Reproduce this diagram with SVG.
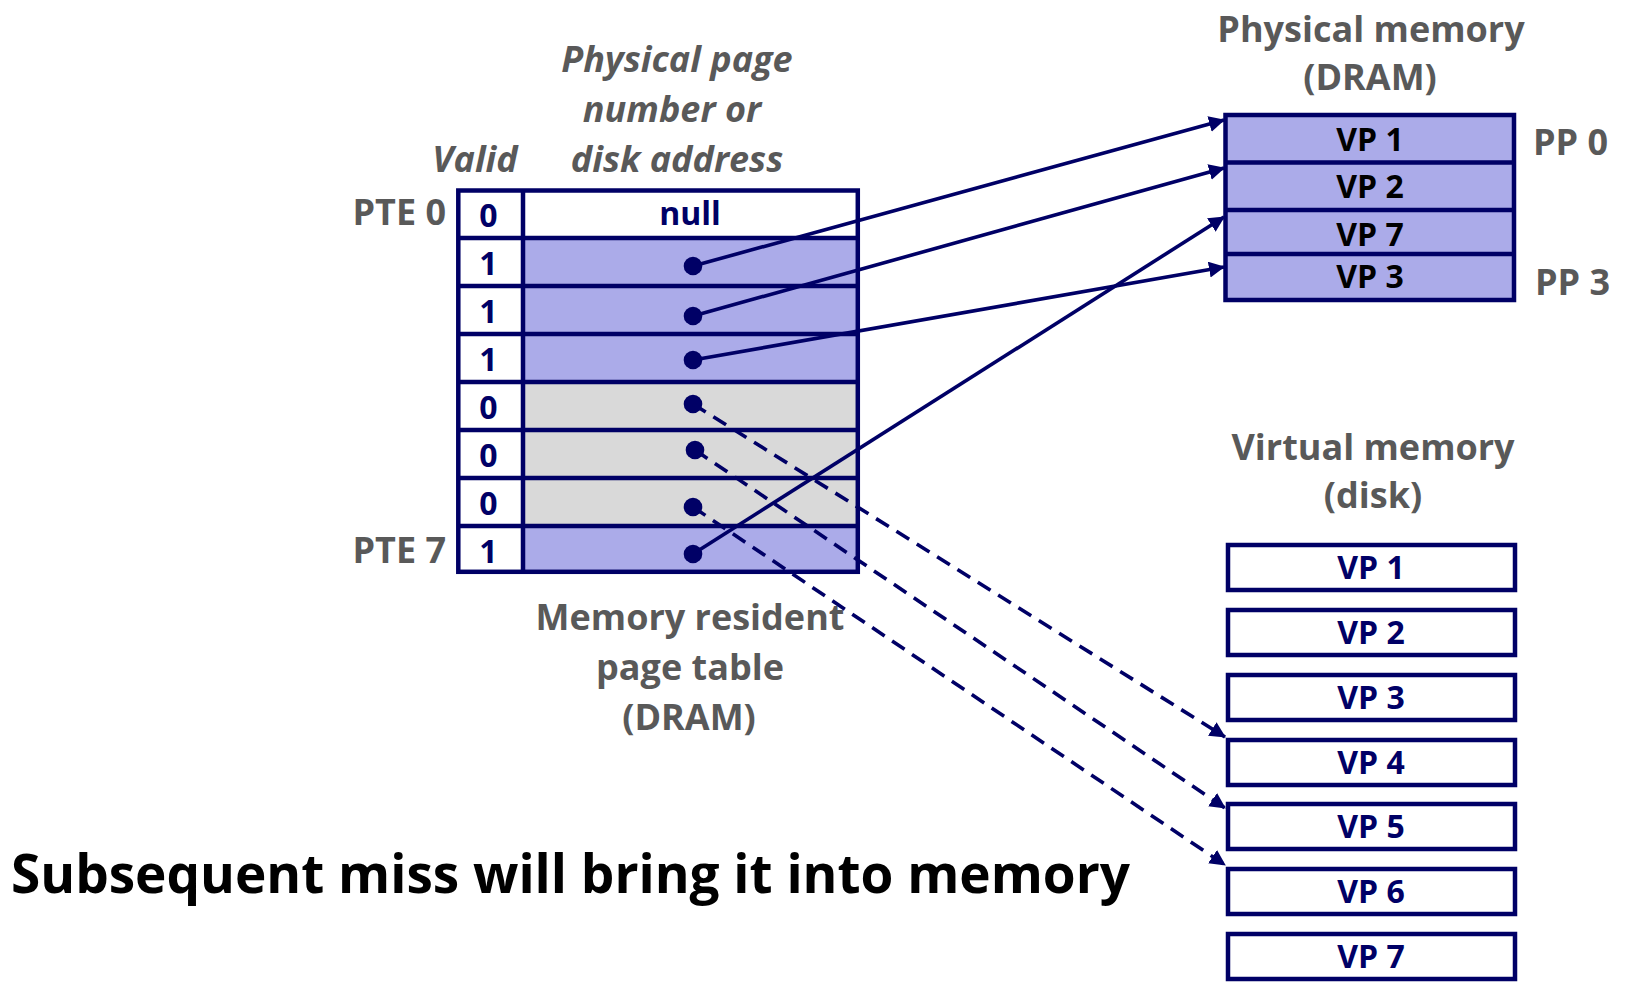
<svg xmlns="http://www.w3.org/2000/svg" width="1644" height="1000" viewBox="0 0 1644 1000">
<style>
.lbl{font-family:"Open Sans","Liberation Sans",sans-serif;font-weight:700;font-size:36px;fill:#595959}
.ital{font-style:italic}
.mid{text-anchor:middle}
.cell{font-family:"Open Sans","Liberation Sans",sans-serif;font-weight:700;font-size:32px;fill:#000066;text-anchor:middle}
.pm{font-family:"Open Sans","Liberation Sans",sans-serif;font-weight:700;font-size:32px;fill:#000000;text-anchor:middle}
.grid{fill:none;stroke:#000066;stroke-width:4.5}
.box{fill:#ffffff;stroke:#000066;stroke-width:4.5}
.lav{fill:#ABABE9}
.gry{fill:#D9D9D9}
.wht{fill:#ffffff}
.conn{fill:none;stroke:#000066;stroke-width:3.6}
.dash{stroke-dasharray:15 9}
.dot{fill:#000066}
.big{font-family:"Open Sans","Liberation Sans",sans-serif;font-weight:700;font-size:53px;fill:#000000}
</style>
<defs>
<marker id="ah" markerUnits="userSpaceOnUse" markerWidth="18" markerHeight="18" refX="15" refY="8" orient="auto">
<path d="M0,0 L16,8 L0,16 Z" fill="#000066"/>
</marker>
</defs>

<g id="page-table">
<rect class="wht" x="458.3" y="190.5" width="399.5" height="381.3"/>
<rect class="lav" x="523" y="238" width="334.8" height="144"/>
<rect class="gry" x="523" y="382" width="334.8" height="144"/>
<rect class="lav" x="523" y="526" width="334.8" height="45.8"/>
<rect class="grid" x="458.3" y="190.5" width="399.5" height="381.3"/>
<path class="grid" d="M523,190.5V571.8 M458.3,238H857.8 M458.3,286H857.8 M458.3,334H857.8 M458.3,382H857.8 M458.3,430H857.8 M458.3,478H857.8 M458.3,526H857.8"/>
<text class="cell" x="488.5" y="226.7">0</text>
<text class="cell" x="488.5" y="275">1</text>
<text class="cell" x="488.5" y="322.5">1</text>
<text class="cell" x="488.5" y="370.5">1</text>
<text class="cell" x="488.5" y="418.5">0</text>
<text class="cell" x="488.5" y="466.5">0</text>
<text class="cell" x="488.5" y="514.5">0</text>
<text class="cell" x="488.5" y="562.5">1</text>
<text class="cell" x="690" y="225">null</text>
<circle class="dot" cx="693" cy="266" r="9.3"/>
<circle class="dot" cx="693" cy="316" r="9.3"/>
<circle class="dot" cx="693" cy="360" r="9.3"/>
<circle class="dot" cx="693" cy="404" r="9.3"/>
<circle class="dot" cx="695" cy="450" r="9.3"/>
<circle class="dot" cx="693" cy="507" r="9.3"/>
<circle class="dot" cx="693" cy="554" r="9.3"/>
</g>

<g id="table-labels">
<text class="lbl ital mid" x="677" y="72">Physical page</text>
<text class="lbl ital mid" x="672" y="122">number or</text>
<text class="lbl ital mid" x="677" y="172">disk address</text>
<text class="lbl ital mid" x="475" y="172">Valid</text>
<text class="lbl" x="446" y="225" text-anchor="end">PTE 0</text>
<text class="lbl" x="446" y="563" text-anchor="end">PTE 7</text>
<text class="lbl mid" x="690" y="630">Memory resident</text>
<text class="lbl mid" x="690" y="680">page table</text>
<text class="lbl mid" x="689" y="730">(DRAM)</text>
</g>

<g id="physical-memory">
<text class="lbl mid" x="1371" y="42">Physical memory</text>
<text class="lbl mid" x="1370" y="90">(DRAM)</text>
<rect class="lav" x="1225.5" y="115" width="288.5" height="185"/>
<rect class="grid" x="1225.5" y="115" width="288.5" height="185"/>
<path class="grid" d="M1225.5,162.5H1514 M1225.5,210H1514 M1225.5,254H1514"/>
<text class="pm" x="1370" y="151">VP 1</text>
<text class="pm" x="1370" y="198">VP 2</text>
<text class="pm" x="1370" y="246">VP 7</text>
<text class="pm" x="1370" y="288">VP 3</text>
<text class="lbl" x="1533" y="155">PP 0</text>
<text class="lbl" x="1535" y="295">PP 3</text>
</g>

<g id="virtual-memory">
<text class="lbl mid" x="1373" y="460">Virtual memory</text>
<text class="lbl mid" x="1373" y="508">(disk)</text>
<g id="vp1"><rect class="box" x="1228" y="545" width="287" height="45"/><text class="cell" x="1371" y="578.5">VP 1</text></g>
<g id="vp2"><rect class="box" x="1228" y="610" width="287" height="45"/><text class="cell" x="1371" y="643.5">VP 2</text></g>
<g id="vp3"><rect class="box" x="1228" y="675" width="287" height="45"/><text class="cell" x="1371" y="708.5">VP 3</text></g>
<g id="vp4"><rect class="box" x="1228" y="740" width="287" height="45"/><text class="cell" x="1371" y="773.5">VP 4</text></g>
<g id="vp5"><rect class="box" x="1228" y="804" width="287" height="45"/><text class="cell" x="1371" y="837.5">VP 5</text></g>
<g id="vp6"><rect class="box" x="1228" y="869" width="287" height="45"/><text class="cell" x="1371" y="902.5">VP 6</text></g>
<g id="vp7"><rect class="box" x="1228" y="934" width="287" height="45"/><text class="cell" x="1371" y="967.5">VP 7</text></g>
</g>

<g id="connectors">
<path class="conn" d="M693,266 L1224,120" marker-end="url(#ah)"/>
<path class="conn" d="M693,316 L1224,168" marker-end="url(#ah)"/>
<path class="conn" d="M693,360 L1224,267" marker-end="url(#ah)"/>
<path class="conn" d="M693,554 L1224,217" marker-end="url(#ah)"/>
<path class="conn dash" d="M693,404 L1225,737" marker-end="url(#ah)"/>
<path class="conn dash" d="M695,450 L1225,808" marker-end="url(#ah)"/>
<path class="conn dash" d="M693,507 L1225,865" marker-end="url(#ah)"/>
</g>

<text class="big" x="11" y="893" textLength="1119" lengthAdjust="spacingAndGlyphs">Subsequent miss will bring it into memory</text>
</svg>
